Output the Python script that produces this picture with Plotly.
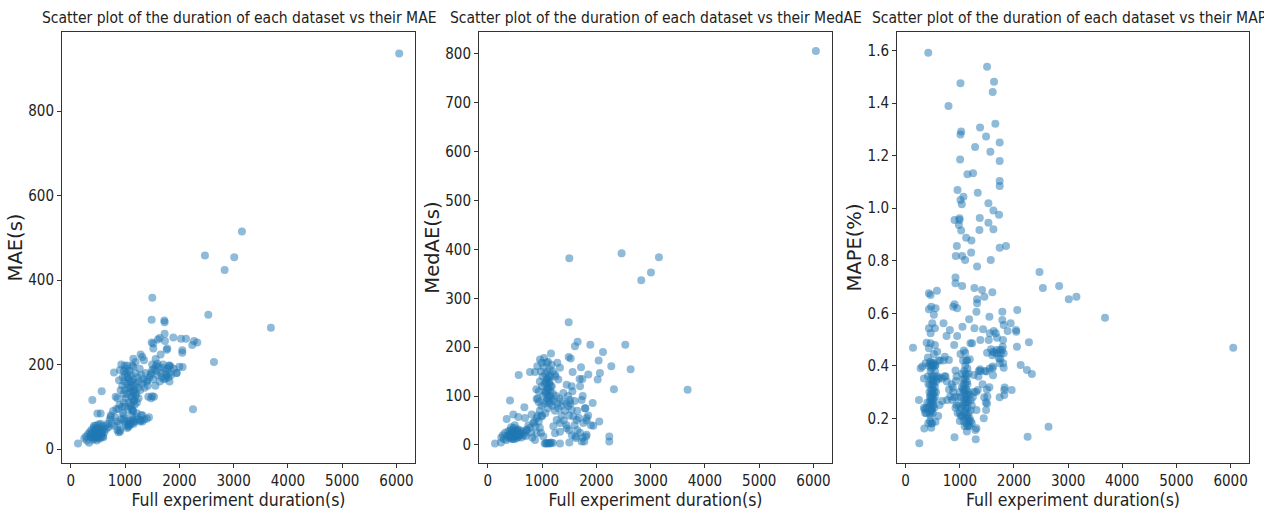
import plotly.graph_objects as go

# Each dataset: (full experiment duration in s, metric value)
mae_points = [
    (6049, 936), (3153, 515), (2472, 458), (3012, 454), (2834, 424), (1503, 358), (2534, 318),
    (1491, 306), (1724, 304), (1730, 300), (3687, 287), (1730, 273), (1890, 264), (2031, 261),
    (2123, 261), (2270, 256), (2331, 252), (2239, 246), (1736, 256), (1638, 263), (1607, 259),
    (1491, 252), (1521, 250), (2055, 234), (2055, 228), (1767, 235), (1779, 238), (1521, 238),
    (2638, 206), (2061, 194), (1951, 180), (1822, 198), (1840, 194), (1810, 197), (1706, 192),
    (1810, 179), (1748, 167), (1595, 202), (1570, 197), (1564, 213), (1656, 224), (1503, 187),
    (1472, 175), (1411, 163), (1288, 224), (1319, 218), (1350, 210), (1153, 214), (1196, 206),
    (1135, 198), (932, 200), (994, 197), (1043, 198), (908, 187), (798, 181), (890, 163),
    (920, 139), (828, 124), (571, 137), (399, 116), (2252, 94), (135, 13), (1442, 75),
    (1429, 124), (1534, 124), (1319, 80), (1319, 65), (1288, 68), (908, 41), (1061, 53),
    (1074, 59), (1153, 65), (1055, 67), (552, 84), (491, 84), (736, 76), (859, 65), (982, 72),
    (250, 25), (280, 30), (300, 20), (320, 35), (340, 15), (350, 40), (370, 28), (380, 45),
    (400, 30), (410, 22), (420, 50), (430, 35), (440, 25), (450, 40), (460, 55), (470, 30),
    (480, 20), (490, 45), (500, 35), (510, 28), (520, 50), (530, 38), (540, 25), (550, 42),
    (560, 30), (570, 55), (580, 35), (600, 28), (610, 45), (620, 40), (640, 55), (660, 48),
    (680, 60), (700, 52), (720, 70), (740, 80), (760, 60), (780, 90), (800, 55), (820, 75),
    (840, 95), (860, 45), (880, 40), (900, 60), (910, 45), (930, 70), (950, 100), (960, 85),
    (980, 110), (1000, 65), (1020, 55), (1040, 50), (1060, 60), (1080, 55), (1100, 65),
    (1120, 60), (1140, 70), (1160, 60), (1180, 65), (1200, 75), (1220, 85), (1250, 70),
    (1280, 65), (1300, 80), (1350, 70), (1400, 72),
    (360, 32), (390, 38), (420, 28), (440, 45), (460, 33), (480, 40), (500, 25), (520, 32),
    (540, 45), (560, 38), (580, 48), (590, 30), (470, 48), (430, 55), (510, 58), (550, 60),
    (950, 150), (960, 170), (970, 130), (980, 185), (990, 160), (1000, 140), (1000, 175),
    (1010, 120), (1020, 190), (1030, 155), (1040, 130), (1050, 170), (1060, 145), (1070, 110),
    (1080, 185), (1090, 160), (1100, 135), (1100, 100), (1110, 175), (1120, 150), (1130, 120),
    (1140, 90), (1150, 195), (1150, 165), (1160, 140), (1170, 115), (1180, 105), (1190, 180),
    (1200, 155), (1210, 130), (1220, 110), (1230, 170), (1240, 145), (1250, 120), (1260, 160),
    (1270, 190), (1280, 140), (1300, 175), (1320, 155), (1340, 165), (1360, 145), (1380, 180),
    (1400, 160), (1420, 150), (1450, 170), (1480, 180), (1500, 200), (1520, 165), (1540, 190),
    (1560, 150), (1580, 185), (1600, 175), (1620, 195), (1640, 160), (1660, 180), (1680, 170),
    (1700, 200), (1720, 165), (1740, 185), (1760, 175), (1780, 190), (1800, 170), (1820, 160),
    (1850, 175), (1900, 190), (1950, 180), (2000, 195), (1150, 90), (1120, 80), (1060, 95),
    (1000, 100), (980, 80), (900, 105), (880, 95), (860, 120), (1480, 120), (1500, 125),
    (1040, 180), (1070, 165), (1090, 145), (1110, 125), (1130, 160), (1150, 135), (1170, 150),
    (1190, 125), (1110, 105), (1130, 95), (1160, 115), (1180, 135),
]

medae_points = [
    (6043, 806), (2466, 392), (3153, 384), (1503, 382), (3006, 353), (2828, 337), (1491, 251),
    (1656, 211), (1607, 202), (1890, 205), (2534, 205), (2123, 190), (1166, 187), (2043, 173),
    (2276, 161), (2632, 155), (1718, 159), (1491, 180), (1528, 177), (1564, 149), (2067, 147),
    (1853, 144), (2025, 134), (1693, 135), (1742, 135), (2325, 114), (3681, 113), (571, 143),
    (411, 91), (779, 149), (871, 149), (914, 161), (963, 175), (1037, 178), (994, 168),
    (1086, 168), (1178, 164), (1282, 168), (1331, 158), (1239, 144), (1301, 134), (896, 114),
    (902, 94), (675, 77), (350, 53), (472, 62), (564, 57), (687, 55), (135, 3), (245, 5),
    (1331, 3), (1503, 5), (1613, 17), (1626, 14), (1779, 7), (1810, 17), (1822, 21), (1730, 7),
    (2239, 17), (2239, 7), (2055, 48), (1945, 39), (1933, 86), (1730, 92), (1791, 75),
    (1822, 55), (1761, 45), (1485, 79), (1546, 72), (1577, 58), (1638, 51), (1515, 92),
    (1393, 106), (1454, 123), (1546, 120), (1331, 45), (1270, 51), (1209, 38), (1331, 27),
    (1454, 34), (1239, 24), (994, 58), (840, 45), (902, 24), (1025, 17), (871, 10), (718, 31),
    (810, 62),
    (250, 15), (280, 20), (300, 12), (320, 25), (340, 10), (360, 18), (380, 28), (400, 14),
    (410, 22), (420, 30), (440, 12), (450, 18), (460, 25), (470, 15), (480, 35), (490, 20),
    (500, 12), (510, 28), (520, 18), (530, 24), (540, 14), (550, 32), (560, 20), (570, 16),
    (580, 26), (600, 22), (620, 15), (640, 28), (660, 20), (680, 25), (700, 18), (720, 30),
    (750, 40), (780, 35), (800, 25), (820, 15), (860, 48), (880, 38), (900, 55), (920, 60),
    (940, 48), (960, 35), (980, 25),
    (390, 20), (430, 24), (455, 30), (475, 22), (495, 28), (515, 20), (535, 30), (555, 24),
    (575, 20), (420, 16), (465, 12), (505, 18), (545, 22), (590, 30), (430, 36), (500, 40),
    (1050, 3), (1070, 3), (1090, 4), (1110, 3), (1130, 4), (1150, 3), (1170, 5), (1200, 4),
    (920, 95), (940, 110), (960, 130), (980, 150), (990, 80), (1000, 120), (1010, 140),
    (1020, 100), (1030, 160), (1040, 85), (1050, 125), (1060, 145), (1070, 105), (1080, 90),
    (1090, 135), (1100, 115), (1100, 150), (1110, 75), (1120, 100), (1130, 125), (1140, 85),
    (1150, 110), (1160, 140), (1170, 95), (1180, 120), (1190, 80), (1200, 105), (1220, 90),
    (1240, 70), (1260, 100), (1280, 85), (1300, 75), (1320, 95), (1350, 80), (1380, 90),
    (1060, 65), (1000, 60), (960, 70), (940, 88), (1110, 170), (1140, 155), (1200, 150),
    (1250, 140),
    (1080, 110), (1090, 125), (1100, 95), (1110, 135), (1120, 115), (1130, 90), (1140, 130),
    (1150, 100), (1160, 120), (1070, 130), (1060, 110), (1120, 140),
    (1420, 70), (1450, 85), (1480, 100), (1500, 60), (1520, 85), (1560, 110), (1600, 90),
    (1650, 70), (1680, 55), (1700, 120), (1750, 100), (1800, 75), (1820, 50), (1850, 60),
    (1900, 40), (1600, 40), (1650, 30), (1700, 25), (1750, 15), (1400, 50), (1450, 40),
    (1500, 30), (1550, 20), (1360, 60),
]

mape_points = [
    (417, 1.592), (1503, 1.539), (1012, 1.476), (1632, 1.482), (1607, 1.443), (791, 1.389),
    (1656, 1.322), (1374, 1.307), (1025, 1.292), (1012, 1.281), (1485, 1.273), (1736, 1.250),
    (1282, 1.233), (1564, 1.215), (1006, 1.186), (1736, 1.180), (1141, 1.129), (1245, 1.133),
    (1736, 1.104), (1736, 1.085), (957, 1.069), (1331, 1.059), (1067, 1.044), (1012, 1.031),
    (1037, 1.015), (1528, 1.019), (1620, 0.991), (1724, 0.975), (1368, 0.963), (902, 0.955),
    (994, 0.962), (994, 0.955), (982, 0.936), (1528, 0.945), (1025, 0.915), (1362, 0.917),
    (1620, 0.920), (1117, 0.888), (1215, 0.877), (945, 0.856), (1736, 0.850), (1853, 0.856),
    (1209, 0.831), (926, 0.818), (1043, 0.818), (1098, 0.803), (1571, 0.803), (1319, 0.778),
    (2472, 0.757), (920, 0.736), (920, 0.714), (1043, 0.704), (1270, 0.696), (2534, 0.696),
    (2834, 0.704), (577, 0.686), (429, 0.676), (460, 0.670), (1601, 0.680), (1411, 0.689),
    (1454, 0.663), (3012, 0.653), (3153, 0.663), (1319, 0.653), (1319, 0.638), (902, 0.634),
    (877, 0.625), (951, 0.619), (429, 0.615), (472, 0.625), (552, 0.619), (1307, 0.606),
    (1785, 0.606), (2061, 0.613), (1546, 0.587), (3681, 0.583), (521, 0.594), (491, 0.562),
    (540, 0.543), (699, 0.562), (1172, 0.577), (1785, 0.574), (1810, 0.555), (1939, 0.562),
    (429, 0.543), (460, 0.524), (816, 0.536), (755, 0.514), (1049, 0.549), (1270, 0.543),
    (1429, 0.539), (951, 0.514), (1552, 0.524), (1626, 0.533), (1663, 0.524), (1883, 0.533),
    (2043, 0.530), (2037, 0.536), (1380, 0.498), (1534, 0.498), (1687, 0.507), (1798, 0.498),
    (460, 0.486), (540, 0.479), (387, 0.488), (429, 0.467), (1227, 0.486), (1196, 0.486),
    (2276, 0.490), (135, 0.469), (2055, 0.473), (6049, 0.469), (896, 0.479), (1791, 0.473),
    (1779, 0.460), (583, 0.454), (521, 0.445), (1074, 0.458), (1012, 0.445), (1503, 0.450),
    (1577, 0.463), (1613, 0.454), (1687, 0.448), (1736, 0.460), (1810, 0.448), (724, 0.435),
    (632, 0.420), (798, 0.422), (1135, 0.420), (1184, 0.425), (411, 0.432), (368, 0.410),
    (460, 0.416), (552, 0.403), (307, 0.397), (276, 0.391), (1748, 0.426), (1736, 0.410),
    (1607, 0.397), (1607, 0.391), (2123, 0.403), (1810, 0.393), (1374, 0.387), (1466, 0.380),
    (1491, 0.378), (2239, 0.384), (2331, 0.369), (920, 0.382), (1258, 0.365), (1344, 0.359),
    (1613, 0.364), (337, 0.352), (411, 0.359), (620, 0.356), (675, 0.352), (736, 0.359),
    (926, 0.342), (1546, 0.318), (1828, 0.317), (1822, 0.308), (1957, 0.308), (1331, 0.308),
    (871, 0.317), (822, 0.283), (767, 0.270), (1509, 0.283), (1736, 0.280), (1822, 0.289),
    (245, 0.270), (675, 0.266), (626, 0.251), (1503, 0.257), (1485, 0.232), (1307, 0.232),
    (350, 0.234), (387, 0.219), (337, 0.240), (1442, 0.200), (601, 0.209), (552, 0.187),
    (491, 0.181), (344, 0.161), (472, 0.164), (2638, 0.168), (417, 0.181), (1307, 0.162),
    (1288, 0.156), (1221, 0.181), (1166, 0.175), (902, 0.128), (2252, 0.130), (1294, 0.120),
    (252, 0.105),
    (430, 0.40), (450, 0.41), (470, 0.40), (490, 0.41), (510, 0.40), (520, 0.41), (540, 0.40),
    (460, 0.38), (480, 0.36), (500, 0.34), (520, 0.33), (540, 0.32), (560, 0.30), (470, 0.31),
    (490, 0.30), (510, 0.29), (450, 0.28), (470, 0.27), (490, 0.26), (510, 0.25), (530, 0.24),
    (460, 0.25), (480, 0.23), (500, 0.22), (440, 0.22), (460, 0.21), (520, 0.27), (540, 0.28),
    (560, 0.34), (580, 0.36), (600, 0.35), (420, 0.24), (440, 0.26), (500, 0.31), (520, 0.36),
    (540, 0.38), (480, 0.39), (600, 0.42), (420, 0.33), (400, 0.26), (380, 0.24), (360, 0.22),
    (450, 0.33), (470, 0.35), (490, 0.33), (510, 0.35), (460, 0.29), (480, 0.28), (500, 0.27),
    (440, 0.30), (530, 0.30), (470, 0.23), (490, 0.24), (450, 0.19), (470, 0.18),
    (1000, 0.30), (1020, 0.28), (1040, 0.32), (1060, 0.35), (1080, 0.38), (1100, 0.40),
    (1120, 0.36), (1140, 0.33), (1160, 0.30), (1060, 0.25), (1080, 0.22), (1100, 0.20),
    (1120, 0.18), (1140, 0.17), (1040, 0.21), (1020, 0.24), (1000, 0.22), (980, 0.25),
    (960, 0.28), (1100, 0.28), (1120, 0.26), (1140, 0.24), (1160, 0.22), (1180, 0.20),
    (1080, 0.30), (1100, 0.33), (1120, 0.31), (1140, 0.29), (1060, 0.31), (1080, 0.27),
    (1100, 0.24), (1180, 0.29), (1200, 0.27), (1200, 0.23), (1220, 0.25), (1240, 0.28),
    (1040, 0.37), (1060, 0.42), (1100, 0.45), (1120, 0.42), (1140, 0.39), (1160, 0.37),
    (1000, 0.19), (1020, 0.21), (960, 0.22), (940, 0.25), (920, 0.24), (900, 0.28), (880, 0.30),
    (860, 0.27), (1160, 0.19), (1180, 0.17), (1200, 0.19), (1130, 0.15),
    (1090, 0.35), (1110, 0.37), (1130, 0.34), (1070, 0.33), (1090, 0.31), (1110, 0.29),
    (1130, 0.27), (1150, 0.26), (1090, 0.26), (1110, 0.23), (1130, 0.21), (1150, 0.20),
    (1070, 0.19), (1090, 0.17),
    (700, 0.42), (720, 0.36), (760, 0.34), (800, 0.31), (850, 0.33), (940, 0.36), (1260, 0.30),
    (1300, 0.30), (1350, 0.38), (1380, 0.38), (1420, 0.33), (1450, 0.28), (1480, 0.26),
    (1500, 0.31), (1550, 0.39), (1600, 0.44), (1640, 0.45), (1680, 0.46), (1720, 0.43),
    (1760, 0.45), (1800, 0.41),
]

titles = [
    "Scatter plot of the duration of each dataset vs their MAE",
    "Scatter plot of the duration of each dataset vs their MedAE",
    "Scatter plot of the duration of each dataset vs their MAPE",
]
y_titles = ["MAE(s)", "MedAE(s)", "MAPE(%)"]
x_title = "Full experiment duration(s)"
x_ticks = [0, 1000, 2000, 3000, 4000, 5000, 6000]
y_ticks = [
    [0, 200, 400, 600, 800],
    [0, 100, 200, 300, 400, 500, 600, 700, 800],
    [0.2, 0.4, 0.6, 0.8, 1.0, 1.2, 1.4, 1.6],
]
y_tick_text = [
    [str(v) for v in y_ticks[0]],
    [str(v) for v in y_ticks[1]],
    ["%.1f" % v for v in y_ticks[2]],
]

W, H = 1264, 510
# plot frames in pixels: (left, right), shared top/bottom
frames = [(62, 415), (479, 832), (897, 1249)]
top_px, bottom_px = 32, 463
x_range = [-160, 6340]
y_ranges = [[-33, 987], [-37, 845], [0.030, 1.671]]

COND = "DejaVu Sans Condensed, Liberation Sans Narrow, Arial Narrow, sans-serif"
WIDE = "DejaVu Sans, sans-serif"

fig = go.Figure()
series = [mae_points, medae_points, mape_points]
layout = dict(
    width=W, height=H,
    margin=dict(l=0, r=0, t=0, b=0),
    paper_bgcolor="white", plot_bgcolor="white",
    showlegend=False,
    annotations=[],
)
for i, pts in enumerate(series):
    xs = [p[0] for p in pts]
    ys = [p[1] for p in pts]
    sfx = "" if i == 0 else str(i + 1)
    fig.add_trace(go.Scatter(
        x=xs, y=ys, mode="markers",
        xaxis="x" + sfx, yaxis="y" + sfx,
        marker=dict(size=8, color="rgba(31,119,180,0.5)", line=dict(width=0)),
        hoverinfo="skip",
    ))
    l, r = frames[i]
    axis_common = dict(
        showline=True, linecolor="#333333", linewidth=1, mirror=True,
        ticks="outside", ticklen=4, tickcolor="#333333", tickwidth=1,
        showgrid=False, zeroline=False,
        tickfont=dict(family=COND, size=15, color="#222222"),
    )
    layout["xaxis" + sfx] = dict(
        axis_common,
        domain=[l / W, r / W], anchor="y" + sfx,
        range=x_range, tickvals=x_ticks, ticktext=[str(v) for v in x_ticks],
        title=dict(text=x_title, font=dict(family=COND, size=17.5, color="#222222"), standoff=4),
    )
    layout["yaxis" + sfx] = dict(
        axis_common,
        domain=[(H - bottom_px) / H, (H - top_px) / H], anchor="x" + sfx,
        range=y_ranges[i], tickvals=y_ticks[i], ticktext=y_tick_text[i],
        title=dict(text=y_titles[i], font=dict(family=WIDE, size=19.5, color="#222222"), standoff=0),
    )
    layout["annotations"].append(dict(
        text=titles[i], xref="paper", yref="paper",
        x=(l + r) / 2 / W, y=(H - 18) / H, xanchor="center", yanchor="middle",
        showarrow=False, font=dict(family=COND, size=15.5, color="#222222"),
    ))

fig.update_layout(**layout)
fig.write_html("out.html")
